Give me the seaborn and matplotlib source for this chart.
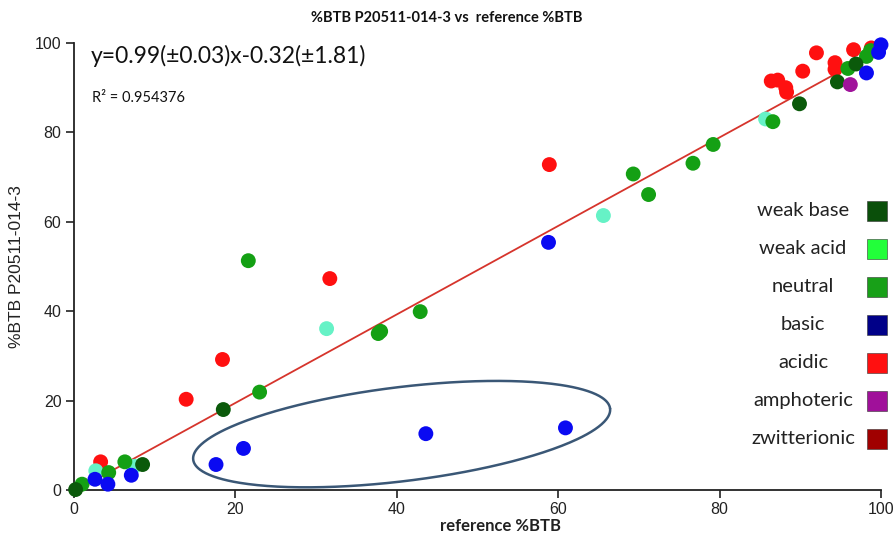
import numpy as np
import pandas as pd
import matplotlib
matplotlib.use("Agg")
import matplotlib.pyplot as plt
import seaborn as sns
from matplotlib.patches import Rectangle

# ---------------- data ----------------
categories = ["weak base", "weak acid", "neutral", "basic", "acidic", "amphoteric", "zwitterionic"]

acidic_x = [3.3, 13.9, 18.4, 31.7, 58.9, 86.4, 87.2, 88.2, 88.3, 90.3, 92.0, 94.3, 94.3, 96.6, 98.8]
acidic_y = [6.3, 20.3, 29.2, 47.3, 72.8, 91.5, 91.7, 90.0, 89.0, 93.7, 97.8, 95.6, 94.1, 98.5, 98.9]

weak_acid_x = [2.7, 7.5, 31.3, 65.6, 85.7]
weak_acid_y = [4.3, 5.3, 36.1, 61.4, 83.0]

neutral_x = [1.0, 4.3, 6.3, 23.0, 21.6, 37.7, 38.0, 42.9, 69.3, 71.2, 76.7, 79.2, 86.6, 95.9, 98.2, 98.7]
neutral_y = [1.3, 3.9, 6.3, 21.9, 51.3, 35.0, 35.5, 39.9, 70.7, 66.1, 73.1, 77.3, 82.4, 94.3, 97.0, 98.3]

weak_base_x = [0.2, 8.5, 18.5, 89.9, 94.6, 96.9]
weak_base_y = [0.1, 5.7, 18.0, 86.4, 91.3, 95.3]

amphoteric_x = [96.2]
amphoteric_y = [90.7]

basic_x = [2.6, 4.2, 7.1, 17.6, 21.0, 43.6, 58.8, 60.9, 98.2, 99.7, 100.0]
basic_y = [2.4, 1.3, 3.3, 5.7, 9.3, 12.6, 55.4, 13.9, 93.3, 97.9, 99.6]

zwitterionic_x = []
zwitterionic_y = []

slope, intercept = 0.99, -0.32
equation = "y=0.99(\u00b10.03)x-0.32(\u00b11.81)"
r2_text = "R\u00b2 = 0.954376"
x_ticks = [0, 20, 40, 60, 80, 100]
y_ticks = [0, 20, 40, 60, 80, 100]

# highlighted group (ellipse annotation) centre in data units
ell_center = (40.6, 12.5)

# ---------------- styling ----------------
point_colors = {
    "weak base": "#0b5a0b", "weak acid": "#66f2c6", "neutral": "#14a014",
    "basic": "#0a0af2", "acidic": "#ff1010", "amphoteric": "#a0139b",
    "zwitterionic": "#a00000",
}
legend_colors = {
    "weak base": "#0a4f0a", "weak acid": "#22ff3a", "neutral": "#18a018",
    "basic": "#000088", "acidic": "#ff1010", "amphoteric": "#a0109a",
    "zwitterionic": "#a00000",
}

frames = []
for name, xs, ys in [("acidic", acidic_x, acidic_y), ("weak acid", weak_acid_x, weak_acid_y),
                     ("neutral", neutral_x, neutral_y), ("weak base", weak_base_x, weak_base_y),
                     ("amphoteric", amphoteric_x, amphoteric_y), ("basic", basic_x, basic_y),
                     ("zwitterionic", zwitterionic_x, zwitterionic_y)]:
    frames.append(pd.DataFrame({"ref": xs, "meas": ys, "cat": name}))
df = pd.concat(frames, ignore_index=True)

sns.set_style("ticks")
plt.rcParams["font.family"] = ["Lato", "DejaVu Sans"]

W, H = 894, 537
fig = plt.figure(figsize=(W / 100, H / 100), dpi=100)
ax = fig.add_axes([74 / W, 1 - 490 / H, (881 - 74) / W, (490 - 43) / H])

# regression line
line_x = np.array([0.0, 100.0])
sns.lineplot(x=line_x, y=slope * line_x + intercept, color="#d6342c", lw=1.3, ax=ax, zorder=2)

sns.scatterplot(data=df, x="ref", y="meas", hue="cat", palette=point_colors,
                hue_order=categories, s=115, linewidth=0, legend=False, ax=ax,
                clip_on=False, zorder=3)

ax.set_xlim(0, 100)
ax.set_ylim(0, 100)
ax.set_xticks(x_ticks)
ax.set_yticks(y_ticks)
sns.despine(ax=ax)
for sp in ["left", "bottom"]:
    ax.spines[sp].set_linewidth(1.3)
    ax.spines[sp].set_color("#222222")
ax.tick_params(direction="out", length=6, width=1.2, color="#222222",
               labelsize=11.5, labelcolor="#222222", pad=3)
for lab in ax.get_xticklabels() + ax.get_yticklabels():
    lab.set_family(["Liberation Sans", "DejaVu Sans"])

ax.set_xlabel("reference %BTB", fontsize=12, fontweight="bold", color="#222222")
ax.xaxis.set_label_coords((500 - 74) / (881 - 74), -0.062)
ax.set_ylabel("%BTB P20511-014-3", fontsize=12.5, labelpad=8, color="#222222",
              family=["Liberation Sans", "DejaVu Sans"])

fig.text(447 / W, 1 - 18 / H, "%BTB P20511-014-3 vs  reference %BTB", ha="center", va="center",
         fontsize=10.5, fontweight="bold", color="#111111")

fig.text(91 / W, 1 - 56 / H, equation, ha="left", va="center", fontsize=16.5, color="#111111")
fig.text(92 / W, 1 - 98 / H, r2_text, ha="left", va="center", fontsize=10.5, color="#111111")

# ellipse annotation around the outlying basic compounds (drawn in pixel space)
fig.canvas.draw()
cx, cy = ax.transData.transform(ell_center)
t = np.linspace(0, 2 * np.pi, 400)
a, b, th = 210, 47, np.deg2rad(7)
px = cx + a * np.cos(t) * np.cos(th) - b * np.sin(t) * np.sin(th)
py = cy + a * np.cos(t) * np.sin(th) + b * np.sin(t) * np.cos(th)
pts = ax.transData.inverted().transform(np.column_stack([px, py]))
ax.plot(pts[:, 0], pts[:, 1], color="#3a5776", lw=1.8, clip_on=False, zorder=4)

# manual legend (label left, colour swatch right)
row0, step = 210.7, 38.0
for i, lab in enumerate(categories):
    yy = row0 + i * step
    fig.text(803 / W, 1 - yy / H, lab, ha="center", va="center", fontsize=14.5, color="#222222")
    fig.patches.append(Rectangle(((877 - 9.75) / W, 1 - (yy + 10) / H), 19.5 / W, 20 / H,
                                 transform=fig.transFigure, facecolor=legend_colors[lab],
                                 edgecolor="#333333", lw=0.4))

fig.savefig("out.png", dpi=100)
